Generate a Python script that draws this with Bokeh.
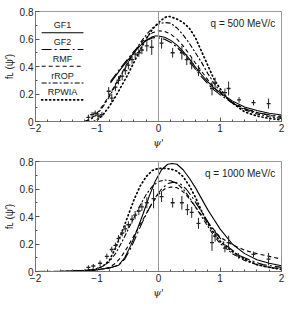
import numpy as np
from bokeh.plotting import figure
from bokeh.layouts import column
from bokeh.models import Range1d, FixedTicker, Label, Span
from bokeh.core.properties import value
from bokeh.embed import file_html
from bokeh.resources import INLINE

FONT = "Liberation Sans"

# ---------------- axes ----------------
x_ticks = [-2, -1, 0, 1, 2]
x_tick_labels = ["\u22122", "\u22121", "0", "1", "2"]
y_ticks = [0, 0.2, 0.4, 0.6, 0.8]
y_tick_labels = ["0", "0.2", "0.4", "0.6", "0.8"]

series_names = ["GF1", "GF2", "RMF", "rROP", "RPWIA"]

# ---------------- q = 500 MeV/c ----------------
gf1_top_x = [-0.78, -0.7, -0.6, -0.5, -0.4, -0.3, -0.2, -0.1, -0.05, 0.0, 0.1, 0.2, 0.3, 0.4, 0.5,
             0.6, 0.7, 0.8, 0.9, 1.0, 1.2, 1.4, 1.6, 1.8, 2.0]
gf1_top_f = [0.28, 0.33, 0.39, 0.445, 0.50, 0.55, 0.59, 0.617, 0.622, 0.622, 0.613, 0.59, 0.555, 0.51,
             0.455, 0.395, 0.34, 0.29, 0.245, 0.21, 0.15, 0.105, 0.08, 0.06, 0.047]
gf2_top_x = gf1_top_x
gf2_top_f = [0.29, 0.34, 0.40, 0.455, 0.51, 0.555, 0.59, 0.608, 0.61, 0.608, 0.598, 0.575, 0.54, 0.495,
             0.44, 0.38, 0.325, 0.275, 0.23, 0.195, 0.135, 0.092, 0.066, 0.048, 0.037]
rmf_top_x = [-1.2, -1.1, -1.0, -0.9, -0.8, -0.7, -0.6, -0.5, -0.4, -0.3, -0.2, -0.1, 0.0, 0.1, 0.2,
             0.3, 0.4, 0.5, 0.6, 0.7, 0.8, 0.9, 1.0, 1.2, 1.4, 1.6, 1.8, 2.0]
rmf_top_f = [0.0, 0.02, 0.06, 0.12, 0.19, 0.27, 0.35, 0.43, 0.50, 0.56, 0.61, 0.645, 0.66, 0.655, 0.635,
             0.60, 0.55, 0.49, 0.425, 0.365, 0.305, 0.25, 0.205, 0.14, 0.095, 0.065, 0.045, 0.03]
rrop_top_x = rmf_top_x
rrop_top_f = [0.0, 0.015, 0.05, 0.11, 0.18, 0.26, 0.34, 0.42, 0.50, 0.57, 0.63, 0.68, 0.71, 0.72, 0.715,
              0.68, 0.63, 0.57, 0.50, 0.43, 0.35, 0.28, 0.22, 0.135, 0.085, 0.055, 0.035, 0.022]
rpwia_top_x = [-1.05, -1.0, -0.9, -0.8, -0.7, -0.6, -0.5, -0.4, -0.3, -0.2, -0.1, 0.0, 0.1, 0.15, 0.2,
               0.3, 0.4, 0.5, 0.6, 0.7, 0.8, 0.9, 1.0, 1.1, 1.2, 1.4, 1.6, 1.8, 2.0]
rpwia_top_f = [0.0, 0.01, 0.05, 0.11, 0.18, 0.26, 0.34, 0.43, 0.52, 0.60, 0.67, 0.72, 0.755, 0.765, 0.762,
               0.745, 0.72, 0.68, 0.61, 0.51, 0.41, 0.31, 0.24, 0.18, 0.135, 0.07, 0.04, 0.022, 0.012]

exp_top_x = [-1.14, -1.08, -1.03, -0.97, -0.92, -0.81, -0.76, -0.70, -0.65, -0.59, -0.54, -0.49, -0.43,
             -0.38, -0.32, -0.27, -0.19, -0.11, 0.05, 0.23, 0.38, 0.46, 0.54, 0.65, 0.87, 0.92, 1.08,
             1.14, 1.31, 1.545, 1.79]
exp_top_f = [0.03, 0.05, 0.06, 0.04, 0.05, 0.22, 0.17, 0.25, 0.30, 0.33, 0.37, 0.41, 0.45, 0.49, 0.50,
             0.52, 0.55, 0.54, 0.57, 0.50, 0.50, 0.45, 0.42, 0.37, 0.24, 0.28, 0.21, 0.24, 0.157, 0.137, 0.13]
exp_top_e = [0.02, 0.02, 0.02, 0.02, 0.02, 0.03, 0.03, 0.03, 0.03, 0.03, 0.03, 0.03, 0.03, 0.03, 0.03,
             0.03, 0.04, 0.055, 0.04, 0.035, 0.05, 0.04, 0.04, 0.04, 0.05, 0.04, 0.03, 0.05, 0.02, 0.02, 0.037]

# ---------------- q = 1000 MeV/c ----------------
gf1_bot_x = [-2.0, -1.6, -1.2, -1.0, -0.8, -0.65, -0.55, -0.45, -0.35, -0.25, -0.15, -0.05, 0.05, 0.15,
             0.22, 0.3, 0.4, 0.5, 0.6, 0.7, 0.8, 0.9, 1.0, 1.2, 1.4, 1.6, 1.8, 2.0]
gf1_bot_f = [0.0, 0.002, 0.008, 0.013, 0.025, 0.045, 0.10, 0.19, 0.30, 0.42, 0.55, 0.66, 0.74, 0.78,
             0.786, 0.78, 0.74, 0.68, 0.61, 0.53, 0.45, 0.38, 0.31, 0.20, 0.13, 0.085, 0.06, 0.042]
gf2_bot_x = [-2.0, -1.6, -1.2, -1.0, -0.8, -0.65, -0.55, -0.45, -0.35, -0.25, -0.15, -0.05, 0.05, 0.15,
             0.25, 0.35, 0.45, 0.55, 0.65, 0.75, 0.85, 0.95, 1.1, 1.3, 1.5, 1.7, 2.0]
gf2_bot_f = [0.0, 0.002, 0.008, 0.013, 0.025, 0.045, 0.09, 0.17, 0.27, 0.37, 0.46, 0.54, 0.60, 0.64,
             0.65, 0.64, 0.60, 0.54, 0.47, 0.40, 0.33, 0.27, 0.19, 0.12, 0.08, 0.05, 0.03]
rmf_bot_x = [-1.2, -1.0, -0.8, -0.7, -0.6, -0.5, -0.4, -0.3, -0.2, -0.1, 0.0, 0.1, 0.2, 0.3, 0.4, 0.5,
             0.6, 0.7, 0.8, 0.9, 1.0, 1.2, 1.4, 1.6, 1.8, 2.0]
rmf_bot_f = [0.003, 0.01, 0.03, 0.06, 0.11, 0.18, 0.26, 0.34, 0.42, 0.50, 0.56, 0.60, 0.615, 0.61, 0.58,
             0.53, 0.47, 0.41, 0.355, 0.305, 0.25, 0.195, 0.155, 0.13, 0.11, 0.09]
rrop_bot_x = [-1.2, -1.0, -0.9, -0.8, -0.7, -0.6, -0.5, -0.4, -0.3, -0.2, -0.1, 0.0, 0.1, 0.2, 0.3, 0.4,
              0.5, 0.6, 0.7, 0.8, 0.9, 1.0, 1.2, 1.4, 1.6, 1.8, 2.0]
rrop_bot_f = [0.005, 0.02, 0.04, 0.07, 0.13, 0.21, 0.30, 0.39, 0.48, 0.56, 0.62, 0.655, 0.665, 0.66, 0.64,
              0.60, 0.54, 0.47, 0.40, 0.33, 0.26, 0.205, 0.13, 0.08, 0.05, 0.03, 0.02]
rpwia_bot_x = rrop_bot_x
rpwia_bot_f = [0.005, 0.02, 0.04, 0.08, 0.17, 0.28, 0.40, 0.52, 0.62, 0.69, 0.735, 0.75, 0.75, 0.745, 0.73,
               0.69, 0.625, 0.54, 0.44, 0.35, 0.28, 0.22, 0.145, 0.09, 0.05, 0.03, 0.015]

exp_bot_x = [-1.14, -1.06, -0.95, -0.84, -0.76, -0.70, -0.65, -0.59, -0.54, -0.49, -0.43, -0.38, -0.32,
             -0.27, -0.19, -0.08, 0.05, 0.23, 0.38, 0.47, 0.54, 0.65, 0.87, 0.92, 1.08, 1.14, 1.30, 1.545, 1.79]
exp_bot_f = [0.03, 0.04, 0.06, 0.11, 0.16, 0.19, 0.24, 0.28, 0.31, 0.34, 0.38, 0.41, 0.44, 0.47, 0.50,
             0.53, 0.545, 0.50, 0.50, 0.45, 0.43, 0.35, 0.21, 0.257, 0.17, 0.21, 0.113, 0.125, 0.09]
exp_bot_e = [0.015, 0.015, 0.02, 0.02, 0.02, 0.02, 0.025, 0.025, 0.025, 0.025, 0.03, 0.03, 0.03, 0.03,
             0.04, 0.07, 0.04, 0.035, 0.05, 0.04, 0.04, 0.04, 0.06, 0.04, 0.03, 0.05, 0.02, 0.02, 0.045]

# ---------------- styles ----------------
STYLE = {
    "GF1": dict(line_dash="solid", line_width=1.1),
    "GF2": dict(line_dash="10 3 2 3", line_width=1.1),
    "RMF": dict(line_dash="4 3", line_width=1.1),
    "rROP": dict(line_dash="5 2 2 2", line_width=1.1),
    "RPWIA": dict(line_dash="1 3", line_width=1.7, line_cap="round"),
}


def make_panel(curves, ex, ef, ee, qtext, frame_h, b_top, b_bottom, legend):
    p = figure(frame_width=246, frame_height=frame_h,
               x_range=Range1d(-2, 2), y_range=Range1d(0, 0.8),
               output_backend="svg", toolbar_location=None,
               min_border_left=29, min_border_right=8,
               min_border_top=b_top, min_border_bottom=b_bottom)
    p.grid.visible = False
    p.outline_line_color = "#9a9a9a"
    p.background_fill_color = "white"

    xa = p.xaxis[0]
    xa.ticker = FixedTicker(ticks=x_ticks,
                            minor_ticks=[round(v, 1) for v in np.arange(-2, 2.001, 0.2)])
    xa.major_label_overrides = {t: s for t, s in zip(x_ticks, x_tick_labels)}
    ya = p.yaxis[0]
    ya.ticker = FixedTicker(ticks=y_ticks,
                            minor_ticks=[round(v, 1) for v in np.arange(0, 0.801, 0.1)])
    ya.major_label_overrides = {t: s for t, s in zip(y_ticks, y_tick_labels)}
    for ax in (xa, ya):
        ax.axis_line_color = "#777777"
        ax.major_tick_line_color = "#555555"
        ax.minor_tick_line_color = "#555555"
        ax.major_tick_in = 4
        ax.major_tick_out = 0
        ax.minor_tick_in = 2
        ax.minor_tick_out = 0
        ax.major_label_text_font = FONT
        ax.major_label_text_font_size = "10px"
        ax.major_label_text_color = "#222222"
        ax.major_label_standoff = 2
        ax.axis_label_text_color = "#222222"
        ax.axis_label_text_font_size = "10px"
        ax.axis_label_standoff = 2
    xa.axis_label = "\u03c8'"
    xa.axis_label_text_font = "DejaVu Serif"
    xa.axis_label_text_font_style = "italic"
    ya.axis_label = "f\u029f (\u03c8')"
    ya.axis_label_text_font = FONT
    ya.axis_label_text_font_style = "normal"

    p.add_layout(Span(location=0, dimension="height", line_color="#9a9a9a", line_width=1))

    for name in series_names:
        cx, cf = curves[name]
        p.line(cx, cf, line_color="black", **STYLE[name])

    ex = np.array(ex); ef = np.array(ef); ee = np.array(ee)
    p.segment(x0=ex, y0=ef - ee, x1=ex, y1=ef + ee, line_color="#222222", line_width=1)
    p.scatter(ex, ef, marker="dash", size=4, line_color="#222222", line_width=1.3)

    p.add_layout(Label(x=1.9, y=0.71, text=qtext, text_align="right", text_baseline="middle",
                       text_font=FONT, text_font_size="10px", text_color="#222222"))

    if legend:
        lx0, lx1, ltop, lstep = -1.9, -1.22, 0.646, 0.122
        for i, name in enumerate(series_names):
            ly = ltop - i * lstep
            p.line([lx0, lx1], [ly, ly], line_color="black", **STYLE[name])
            p.text([(lx0 + lx1) / 2], [ly + 0.018], text=[name], text_align="center",
                   text_baseline="bottom", text_font=value(FONT), text_font_size="9px",
                   text_color="#222222")
    return p


top_curves = {"GF1": (gf1_top_x, gf1_top_f), "GF2": (gf2_top_x, gf2_top_f),
              "RMF": (rmf_top_x, rmf_top_f), "rROP": (rrop_top_x, rrop_top_f),
              "RPWIA": (rpwia_top_x, rpwia_top_f)}
bot_curves = {"GF1": (gf1_bot_x, gf1_bot_f), "GF2": (gf2_bot_x, gf2_bot_f),
              "RMF": (rmf_bot_x, rmf_bot_f), "rROP": (rrop_bot_x, rrop_bot_f),
              "RPWIA": (rpwia_bot_x, rpwia_bot_f)}

p1 = make_panel(top_curves, exp_top_x, exp_top_f, exp_top_e, "q = 500 MeV/c", 110, 11, 28, True)
p2 = make_panel(bot_curves, exp_bot_x, exp_bot_f, exp_bot_e, "q = 1000 MeV/c", 110, 11, 26, False)

layout = column(p1, p2, spacing=0)
open("out.html", "w").write(file_html(layout, INLINE))
